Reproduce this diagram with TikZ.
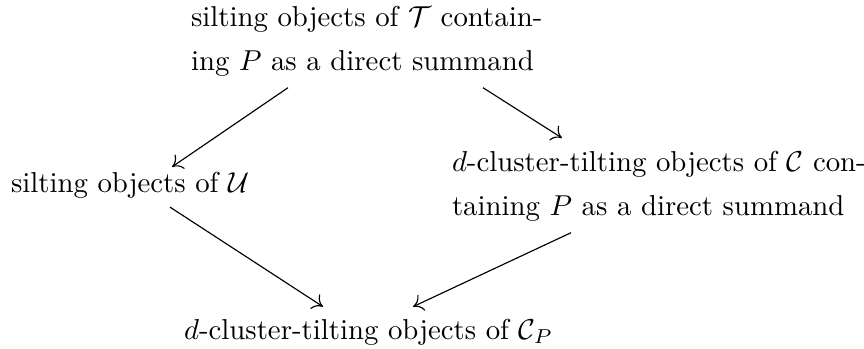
\documentclass[tikz,border=0pt]{standalone}
\usepackage{amsmath,amssymb}
\usetikzlibrary{positioning,arrows.meta}
\tikzset{
->, % directed edges
>={To[length=3.4pt,width=6pt]}, % open arrow heads, a bit larger
every node/.style={inner sep=0pt, outer sep=0pt},
objs/.style={align=left, font=\fontsize{10}{15.3}\selectfont}, % two-line labels
}

\begin{document}
\begin{tikzpicture}[x=0.3472pt, y=-0.3472pt]
\useasboundingbox (0,0) rectangle (864,349);
\node[objs, anchor=north west] (top) at (191,6) {silting objects of $\mathcal{T}$ contain-\\ing $P$ as a direct summand};
\node[anchor=west] (left) at (11,185) {silting objects of $\mathcal{U}$};
\node[objs, anchor=north west] (right) at (452,151) {$d$-cluster-tilting objects of $\mathcal{C}$ con-\\taining $P$ as a direct summand};
\node[anchor=base east] (bottom) at (553,339) {$d$-cluster-tilting objects of $\mathcal{C}_P$};
\draw
([shift={(97,11.4)}]top.south west) -- ([shift={(161,-5)}]left.north west);
\draw
([shift={(292,11.4)}]top.south west) -- ([shift={(110,-13)}]right.north west);
\draw
([shift={(159,9)}]left.south west) -- ([shift={(-230,-12)}]bottom.north east);
\draw
([shift={(119,11.4)}]right.south west) -- ([shift={(-140,-12)}]bottom.north east);
\end{tikzpicture}
\end{document}
